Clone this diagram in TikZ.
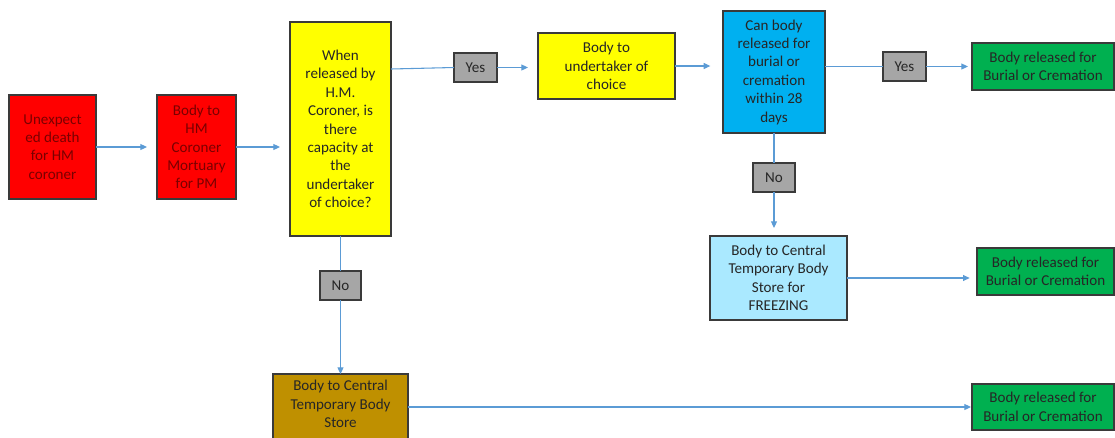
\documentclass[tikz,border=0pt]{standalone}
\usepackage{fontspec}
\setmainfont{Carlito}
\usetikzlibrary{arrows.meta}
\definecolor{bred}{HTML}{FF0000}
\definecolor{tred}{HTML}{7A0000}
\definecolor{byel}{HTML}{FFFF00}
\definecolor{bblue}{HTML}{00B0F0}
\definecolor{blight}{HTML}{AAE9FF}
\definecolor{bgreen}{HTML}{00B050}
\definecolor{bgrey}{HTML}{A6A6A6}
\definecolor{bbrown}{HTML}{BF9000}
\definecolor{conncol}{HTML}{5B9BD5}
\definecolor{edge}{HTML}{3A3A3A}
\newcommand\bx[7]{\node[box,#6,minimum width={(#4-#2)*0.75pt},minimum height={(#5-#3)*0.75pt}] (#1) at ({(#2+#4)/2},{(#3+#5)/2}) {#7};}
\begin{document}
\begin{tikzpicture}[x=0.75pt,y=-0.75pt,
  box/.style={draw=edge,line width=0.9pt,inner sep=0pt,outer sep=0pt,align=center,
    font=\fontsize{11.3pt}{13.8pt}\selectfont,text=black!85},
  conn/.style={draw=conncol,line width=0.8pt},
  arr/.style={conn,-{Triangle[length=5pt,width=4.5pt]}}]
\useasboundingbox (0,0) rectangle (1115,437);
\bx{a}{9}{95}{96}{199}{fill=bred,text=tred}{Unexpect\\ed death\\for HM\\coroner}
\bx{b}{157}{95}{236}{199}{fill=bred,text=tred}{Body to\\HM\\Coroner\\Mortuary\\for PM}
\bx{q1}{290}{22}{391}{236}{fill=byel}{When\\released by\\H.M.\\Coroner, is\\there\\capacity at\\the\\undertaker\\of choice?}
\bx{yes1}{454}{53}{497}{82}{fill=bgrey}{Yes}
\bx{u}{538}{33}{675}{99}{fill=byel}{Body to\\undertaker of\\choice}
\bx{q2}{723}{11}{825}{133}{fill=bblue}{Can body\\released for\\burial or\\cremation\\within 28\\days}
\bx{yes2}{883}{52}{926}{81}{fill=bgrey}{Yes}
\bx{g1}{972}{43}{1114}{90}{fill=bgreen}{Body released for\\Burial or Cremation}
\bx{no2}{753}{163}{795}{192}{fill=bgrey}{No}
\bx{f}{710}{236}{847}{320}{fill=blight}{Body to Central\\Temporary Body\\Store for\\FREEZING}
\bx{g2}{977}{248}{1114}{295}{fill=bgreen}{Body released for\\Burial or Cremation}
\bx{no1}{320}{271}{361}{300}{fill=bgrey}{No}
\node[box,fill=bbrown,minimum width={135*0.75pt},minimum height={72*0.75pt},anchor=north west] (s) at (273,374) {};
\node[font=\fontsize{11.3pt}{13.8pt}\selectfont,align=center,text=black!85,anchor=north,inner sep=0pt] (st) at (340.5,380) {Body to Central\\Temporary Body\\Store};
\bx{g3}{972}{384}{1114}{430}{fill=bgreen}{Body released for\\Burial or Cremation}
% connectors
\draw[arr,shorten >=7.5pt] (a.east) -- (b.west);
\draw[arr,shorten >=7.5pt] (b.east) -- (b.east -| q1.west);
\draw[conn] (q1.east |- 0,69) -- (yes1.west);
\draw[arr,shorten >=7.5pt] (yes1.east) -- (yes1.east -| u.west);
\draw[arr,shorten >=9.5pt] (u.east) -- (u.east -| q2.west);
\draw[conn] (q2.east |- yes2.west) -- (yes2.west);
\draw[arr,shorten >=3pt] (yes2.east) -- (yes2.east -| g1.west);
\draw[conn] (no2.north |- q2.south) -- (no2.north);
\draw[arr,shorten >=6pt] (no2.south) -- (no2.south |- f.north);
\draw[arr,shorten >=5.5pt] (f.east) -- (f.east -| g2.west);
\draw[conn] (no1.north |- q1.south) -- (no1.north);
\draw[arr] (no1.south) -- (no1.south |- s.north);
\draw[arr,shorten >=0.75pt] (s.east |- g3.west) -- (g3.west);
\end{tikzpicture}
\end{document}
